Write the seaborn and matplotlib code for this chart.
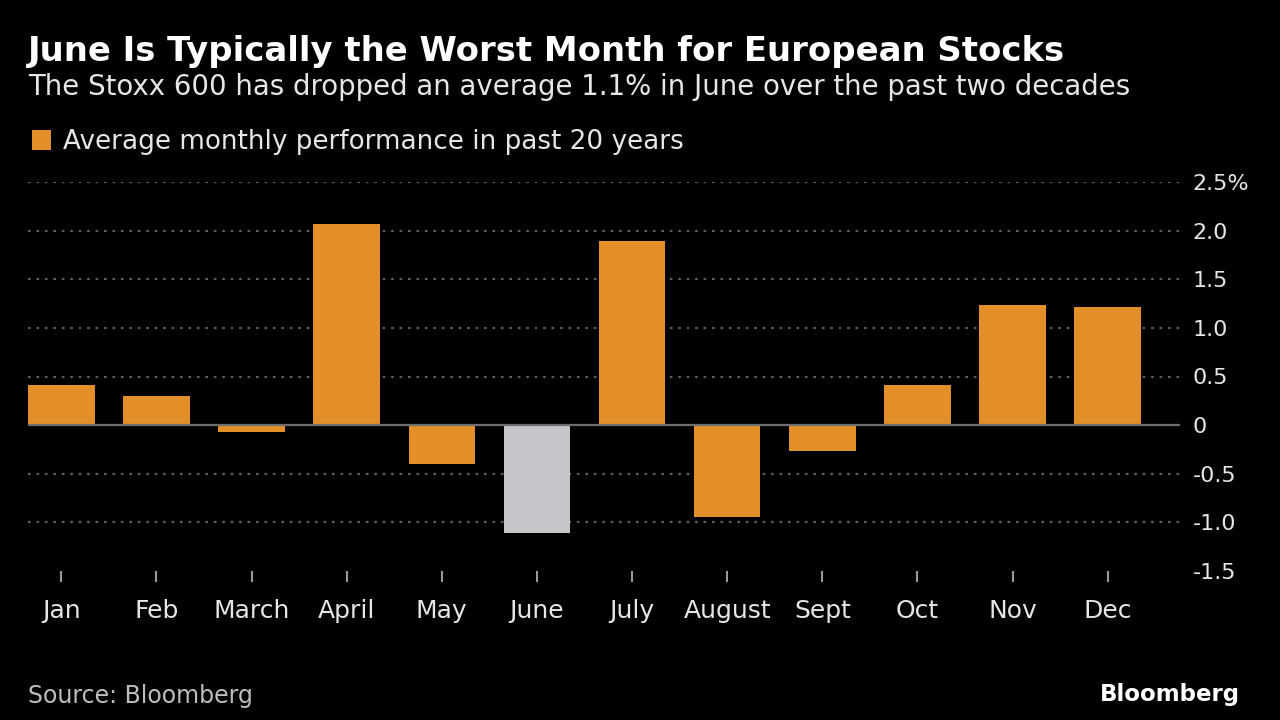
import matplotlib
matplotlib.use("Agg")
import matplotlib.pyplot as plt
from matplotlib.patches import Patch
import seaborn as sns
import pandas as pd

months = ["Jan", "Feb", "March", "April", "May", "June", "July",
          "August", "Sept", "Oct", "Nov", "Dec"]
avg_perf = [0.41, 0.30, -0.07, 2.07, -0.40, -1.11, 1.89, -0.94, -0.27, 0.41, 1.24, 1.21]
highlight_month = "June"
y_ticks = [-1.5, -1.0, -0.5, 0, 0.5, 1.0, 1.5, 2.0, 2.5]
y_tick_labels = ["-1.5", "-1.0", "-0.5", "0", "0.5", "1.0", "1.5", "2.0", "2.5%"]

title = "June Is Typically the Worst Month for European Stocks"
subtitle = "The Stoxx 600 has dropped an average 1.1% in June over the past two decades"
legend_label = "Average monthly performance in past 20 years"
source = "Source: Bloomberg"
brand = "Bloomberg"

ORANGE = "#E28F29"
GREY = "#C6C6CA"
BG = "#000000"
TXT = "#E6E6E6"

sns.set_theme(style="dark")
plt.rcParams["font.family"] = ["DejaVu Sans"]

df = pd.DataFrame({"month": months, "perf": avg_perf})
palette = {m: (GREY if m == highlight_month else ORANGE) for m in months}

fig = plt.figure(figsize=(12.8, 7.2), dpi=100, facecolor=BG)
ax = fig.add_axes([28 / 1280, 1 - 571 / 720, (1180 - 28) / 1280, (571 - 182) / 720])
ax.set_facecolor(BG)

sns.barplot(data=df, x="month", y="perf", hue="month", palette=palette,
            width=0.7, legend=False, ax=ax, saturation=1, edgecolor="none")

ax.set_ylim(-1.5, 2.5)
ax.set_xlim(-0.35, 11.76)
ax.set_yticks(y_ticks)
ax.set_yticklabels(y_tick_labels)
ax.yaxis.tick_right()
ax.set_xlabel("")
ax.set_ylabel("")
for s in ax.spines.values():
    s.set_visible(False)

ax.grid(False)
for v in y_ticks:
    if v == 0:
        ax.axhline(v, color="#6E6E6E", lw=1.6, zorder=3)
    elif v > -1.5:
        ax.axhline(v, color="#5C5C5C", lw=1.6, ls=(0, (1.2, 2.6)), zorder=0)

ax.tick_params(axis="y", left=False, right=False, length=0, pad=9,
               labelsize=16, labelcolor=TXT)
ax.tick_params(axis="x", bottom=True, length=8, width=1.5, color="#9A9A9A", pad=12,
               labelsize=18, labelcolor=TXT, direction="out")

fig.text(28 / 1280, 1 - 61 / 720, title, color="white", fontsize=24.4,
         fontweight="bold", ha="left", va="baseline")
fig.text(28 / 1280, 1 - 95 / 720, subtitle, color=TXT, fontsize=19.9,
         ha="left", va="baseline")

fig.legend(handles=[Patch(facecolor=ORANGE, edgecolor="none", label=legend_label)],
           loc="center left", bbox_to_anchor=(8 / 1280, 1 - 142 / 720),
           frameon=False, fontsize=18.9, labelcolor=TXT, handlelength=0.75,
           handleheight=0.8, handletextpad=0.45)

fig.text(28 / 1280, 1 - 703 / 720, source, color="#BDBDBD", fontsize=17,
         ha="left", va="baseline")
fig.text(1240 / 1280, 1 - 701 / 720, brand, color="white", fontsize=16.5,
         fontweight="bold", ha="right", va="baseline")

fig.savefig("out.png", dpi=100, facecolor=BG)
